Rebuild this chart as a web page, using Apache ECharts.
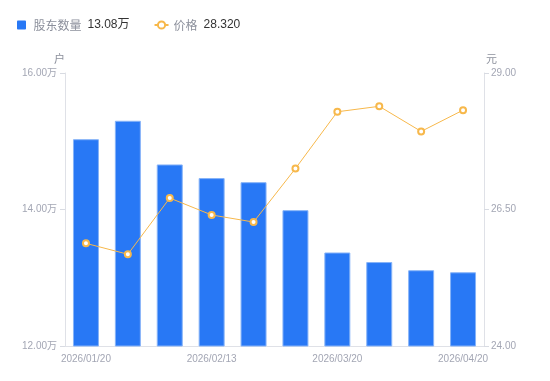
<!DOCTYPE html>
<html><head><meta charset="utf-8">
<script src="https://cdn.jsdelivr.net/npm/echarts@6/dist/echarts.min.js"></script>
<style>html,body{margin:0;padding:0;background:#fff}#c{width:550px;height:381px}</style>
</head><body><div id="c"></div>
<script>
const categories = ['2026/01/20','2026/01/31','2026/02/10','2026/02/13','2026/02/28','2026/03/10','2026/03/20','2026/03/31','2026/04/10','2026/04/20'];
const holders = [15.03, 15.30, 14.66, 14.46, 14.40, 13.99, 13.37, 13.23, 13.11, 13.08];
const prices = [25.88, 25.68, 26.71, 26.40, 26.27, 27.25, 28.29, 28.39, 27.93, 28.32];
const leftTicks = [12, 14, 16];
const rightTicks = [24, 26.5, 29];

const chart = echarts.init(document.getElementById('c'));
const axisLabelColor = '#a3a6b4';
const lineColor = '#dfe1e7';
const latinFont = 'Liberation Sans';
const latest = {
  '股东数量': holders[holders.length - 1].toFixed(2) + '万',
  '价格': prices[prices.length - 1].toFixed(3)
};
chart.setOption({
  animation: false,
  legend: {
    left: 12, top: 14, itemGap: 24, itemWidth: 14, itemHeight: 9, symbolKeepAspect: true,
    textStyle: { fontFamily: 'Noto Sans CJK SC', fontSize: 12,
      rich: { n: { color: '#8c909c', fontSize: 12, fontFamily: 'Noto Sans CJK SC' },
              v: { color: '#333', fontSize: 12, fontFamily: latinFont + ', Noto Sans CJK SC', padding: [0,0,0,6] } } },
    formatter: name => '{n|' + name + '}{v|' + latest[name] + '}',
    data: [{ name: '股东数量', icon: 'path://M1,0 L9,0 Q10,0 10,1 L10,9 Q10,10 9,10 L1,10 Q0,10 0,9 L0,1 Q0,0 1,0 Z', itemStyle: { borderWidth: 0, color: '#2878f5' } },
           { name: '价格' }]
  },
  grid: { left: 65, right: 66, top: 73, bottom: 35 },
  xAxis: {
    type: 'category', data: categories, boundaryGap: true,
    axisLine: { lineStyle: { color: lineColor } },
    axisTick: { show: false },
    axisLabel: { color: axisLabelColor, fontSize: 10, interval: 2, margin: 8, fontFamily: latinFont }
  },
  yAxis: [{
    type: 'value', min: leftTicks[0], max: leftTicks[2], interval: leftTicks[1] - leftTicks[0],
    name: '户', nameGap: 9, nameTextStyle: { color: '#8c909c', fontSize: 11, align: 'right', fontFamily: 'Noto Sans CJK SC' },
    axisLine: { show: true, lineStyle: { color: lineColor } },
    axisTick: { show: true, length: 5, lineStyle: { color: '#d8dbe2' } },
    splitLine: { show: false },
    axisLabel: { color: axisLabelColor, fontSize: 10, margin: 8, fontFamily: latinFont + ', Noto Sans CJK SC', formatter: v => v.toFixed(2) + '万' }
  }, {
    type: 'value', min: rightTicks[0], max: rightTicks[2], interval: rightTicks[1] - rightTicks[0],
    name: '元', nameGap: 9, nameTextStyle: { color: '#8c909c', fontSize: 11, align: 'left', padding: [0,0,0,2], fontFamily: 'Noto Sans CJK SC' },
    axisLine: { show: true, lineStyle: { color: lineColor } },
    axisTick: { show: true, length: 5, lineStyle: { color: '#d8dbe2' } },
    splitLine: { show: false },
    axisLabel: { color: axisLabelColor, fontSize: 10, margin: 7, fontFamily: latinFont, formatter: v => v.toFixed(2) }
  }],
  series: [{
    name: '股东数量', type: 'bar', data: holders, yAxisIndex: 0, barWidth: '62%',
    itemStyle: { color: '#2878f5', borderColor: '#86b3f8', borderWidth: 1 }
  }, {
    name: '价格', type: 'line', data: prices, yAxisIndex: 1,
    symbol: 'circle', symbolSize: 6,
    lineStyle: { color: '#f7b84b', width: 1 },
    itemStyle: { color: '#fff', borderColor: '#f7b84b', borderWidth: 2 }
  }]
});
</script></body></html>
